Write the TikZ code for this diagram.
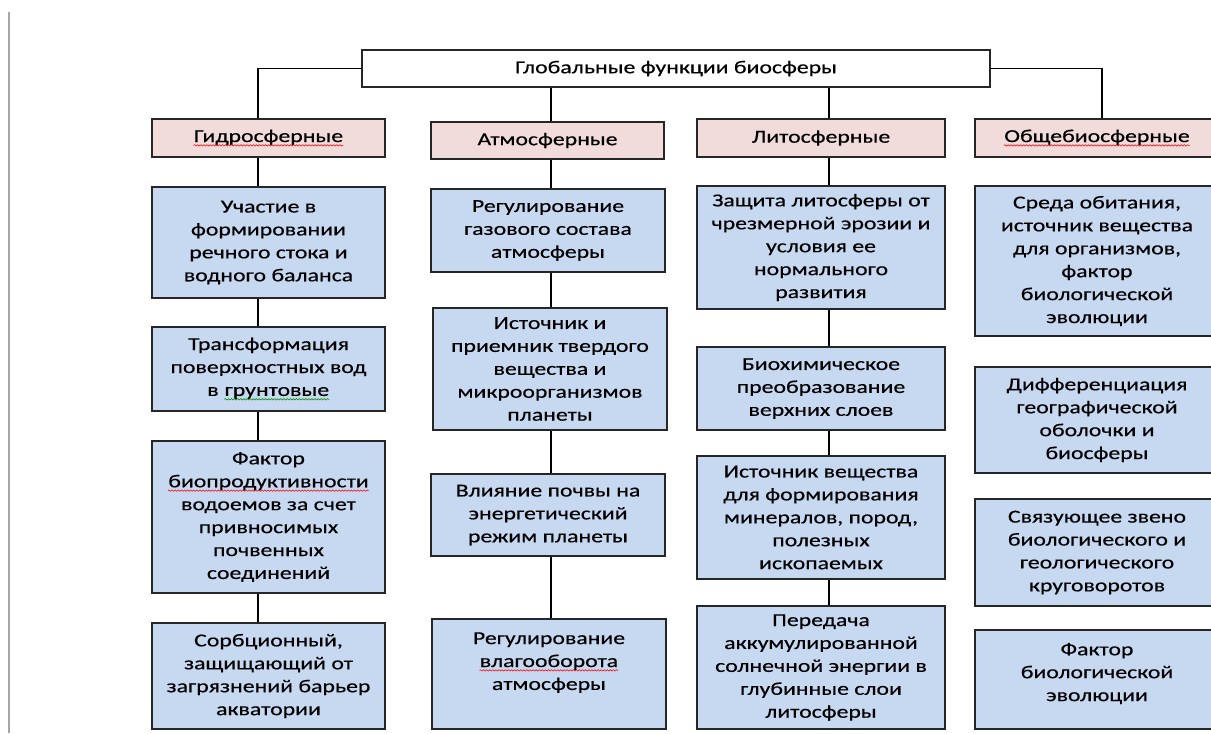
\documentclass[tikz,border=0pt]{standalone}
\usepackage{fontspec}
\setmainfont[FakeStretch=1.3,FakeBold=0.4]{Carlito}
\usetikzlibrary{positioning}
\usetikzlibrary{decorations.pathmorphing}

\definecolor{hdrpink}{HTML}{F2DCDB}
\definecolor{funcblue}{HTML}{C6D9F1}
\definecolor{margingray}{HTML}{A4A6AE}

% spell-check underline
\newcommand\spellwave[2]{\tikz[baseline=(sw.base), x=1cm, y=1cm]{%
  \node[inner sep=0pt, minimum width=0pt, minimum height=0pt, draw=none, fill=none, anchor=base] (sw) {#2};
  \draw[#1, line width=0.4pt, decorate, decoration={snake, amplitude=0.5pt, segment length=2.2pt}]
    ([yshift=-2.4pt]sw.base west) -- ([yshift=-2.4pt]sw.base east);}}

\begin{document}
\begin{tikzpicture}[x=0.025cm,y=-0.025cm,
  every node/.style={font=\fontsize{13}{16.3}\selectfont, align=center, inner sep=0pt},
  sz/.style 2 args={minimum width=#1*0.025cm, minimum height=#2*0.025cm},
  hdr/.style={draw=black!85, line width=0.8pt, fill=hdrpink},
  func/.style={draw=black!85, line width=0.8pt, fill=funcblue},
  link/.style={draw=black, line width=0.8pt}]
\useasboundingbox (0,0) rectangle (1211,733);

% page margin line
\draw[margingray, line width=0.07cm] (9,12) -- (9,733);

% column axes for the connectors
\coordinate (c1) at (258,0);
\coordinate (c2) at (551,0);
\coordinate (c3) at (829,0);
\coordinate (c4) at (1102,0);

% top
\node[draw=black!85, line width=0.8pt, fill=white, sz={628}{37}] (title) at (676,68.5) {Глобальные функции биосферы};

% headers
\node[hdr, sz={233}{38}] (hyd) at (268.5,138) {\spellwave{red}{Гидросферные}};
\node[hdr, sz={233}{37}] (atm) at (547.5,140.5) {Атмосферные};
\node[hdr, sz={248}{38}] (lit) at (821,138) {Литосферные};
\node[hdr, sz={244}{38}] (gen) at (1097,138) {\spellwave{red}{Общебиосферные}};

% hydrospheric
\node[func, sz={233}{111}] (h1) at (268.5,242.5) {Участие в\\формировании\\речного стока и\\водного баланса};
\node[func, sz={233}{84}] (h2) at (268.5,369) {Трансформация\\поверхностных вод\\в \spellwave{green!55!black}{грунтовые}};
\node[func, sz={233}{152}] (h3) at (268.5,517) {Фактор\\\spellwave{red}{биопродуктивности}\\водоемов за счет\\привносимых\\почвенных\\соединений};
\node[func, sz={233}{106}] (h4) at (268.5,676) {Сорбционный,\\защищающий от\\загрязнений барьер\\акватории};

% atmospheric
\node[func, sz={234}{83}] (a1) at (548,230.5) {Регулирование\\газового состава\\атмосферы};
\node[func, sz={234}{122}] (a2) at (550,369) {Источник и\\приемник твердого\\вещества и\\микроорганизмов\\планеты};
\node[func, sz={234}{82}] (a3) at (548,515) {Влияние почвы на\\энергетический\\режим планеты};
\node[func, sz={234}{110}] (a4) at (549,674) {Регулирование\\\spellwave{red}{влагооборота}\\атмосферы\\[2pt]};

% lithospheric
\node[func, sz={248}{123}] (l1) at (821,247.5) {Защита литосферы от\\чрезмерной эрозии и\\условия ее\\нормального\\развития};
\node[func, sz={248}{83}] (l2) at (821,388.5) {Биохимическое\\преобразование\\верхних слоев};
\node[func, sz={248}{123}] (l3) at (821,517.5) {Источник вещества\\для формирования\\минералов, пород,\\полезных\\ископаемых};
\node[func, sz={248}{123}] (l4) at (821,667.5) {Передача\\аккумулированной\\солнечной энергии в\\глубинные слои\\литосферы};

% general biospheric
\node[func, sz={244}{150}] (g1) at (1097,261) {Среда обитания,\\источник вещества\\для организмов,\\фактор\\биологической\\эволюции};
\node[func, sz={244}{106}] (g2) at (1097,420) {Дифференциация\\географической\\оболочки и\\биосферы};
\node[func, sz={244}{107}] (g3) at (1097,552.5) {Связующее звено\\биологического и\\геологического\\круговоротов};
\node[func, sz={244}{99}] (g4) at (1097,679.5) {Фактор\\биологической\\эволюции\\[-5.7pt]};

% links from the top box
\draw[link] (title.west) -| (c1 |- hyd.north);
\draw[link] (title.south -| c2) -- (c2 |- atm.north);
\draw[link] (title.south -| c3) -- (c3 |- lit.north);
\draw[link] (title.east) -| (c4 |- gen.north);

% chains
\foreach \a/\b in {hyd/h1,h1/h2,h2/h3,h3/h4}
  \draw[link] (\a.south -| c1) -- (\b.north -| c1);
\foreach \a/\b in {atm/a1,a1/a2,a2/a3,a3/a4}
  \draw[link] (\a.south -| c2) -- (\b.north -| c2);
\foreach \a/\b in {lit/l1,l1/l2,l2/l3,l3/l4}
  \draw[link] (\a.south -| c3) -- (\b.north -| c3);

\end{tikzpicture}
\end{document}
